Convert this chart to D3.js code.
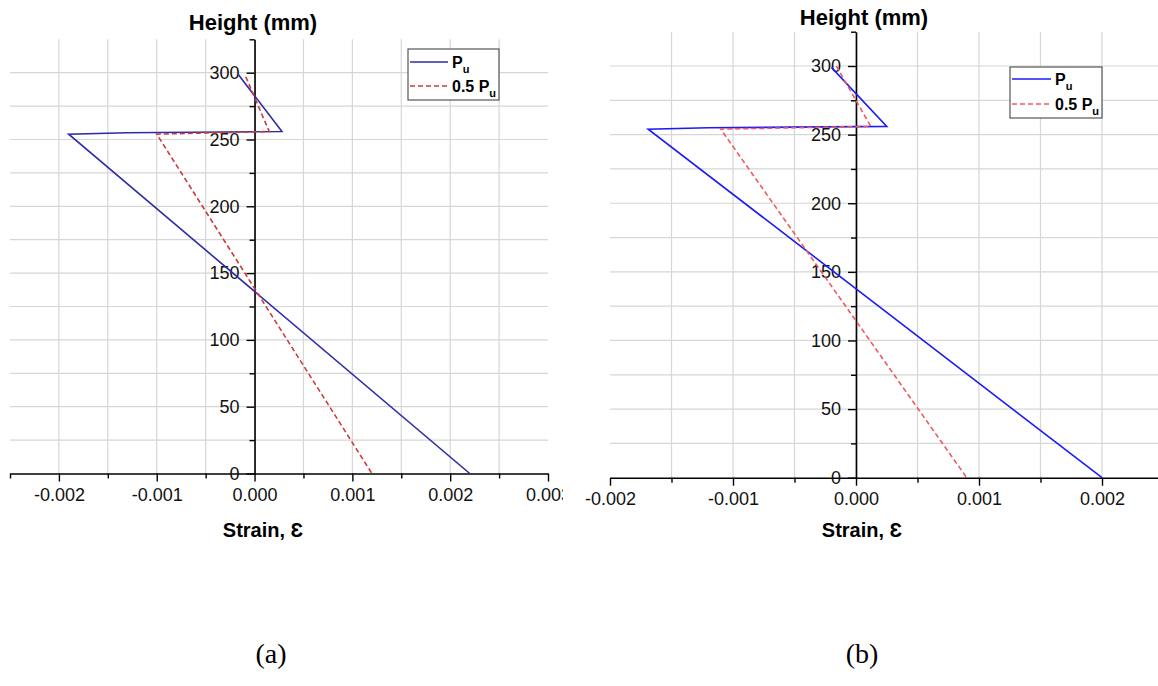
<!DOCTYPE html>
<html lang="en">
<head>
<meta charset="UTF-8">
<title>Strain profiles</title>
<script src="https://cdn.jsdelivr.net/npm/d3@7"></script>
<style>
  body { margin: 0; background: #fff; }
  svg { display: block; font-family: "Liberation Sans", Arial, sans-serif; }
</style>
</head>
<body>
<svg id="chart" width="1158" height="686"></svg>
<script>
// panel (a) values
const strainA_Pu = [-0.00017, 0.00028, -0.0013, -0.0019, 0.0022];
const heightA_Pu = [299, 256, 255, 254, 0];
const strainA_half = [-0.00009, 0.00015, -0.001, 0.0012];
const heightA_half = [297, 256, 254, 0];

// panel (b) values
const strainB_Pu = [-0.0002, 0.00025, -0.0012, -0.00169, 0.002];
const heightB_Pu = [299, 256, 255, 254, 0];
const strainB_half = [-0.00016, 0.00012, -0.0011, 0.0009];
const heightB_half = [300, 256, 254, 0];

const strainTicksA = [-0.002, -0.001, 0, 0.001, 0.002, 0.003];
const strainTicksB = [-0.002, -0.001, 0, 0.001, 0.002];
const heightTicks = [0, 50, 100, 150, 200, 250, 300];
const heightMinor = [25, 75, 125, 175, 225, 275, 325];
const legendLabels = ["P", "0.5 P"];
const captions = ["(a)", "(b)"];

const svg = d3.select("#chart");

const panels = [
  {
    id: "a", caption: captions[0],
    pu: d3.zip(strainA_Pu, heightA_Pu), half: d3.zip(strainA_half, heightA_half),
    ticks: strainTicksA,
    xDomain: [-0.0025, 0.003], xRange: [10, 548], yRange: [473.5, 39.3],
    clip: [0, 563],
    blue: "#2c2ca8", red: "#cc3b3b",
    titleX: 253, titleY: 30, labelX: 263, labelY: 537, capX: 271,
    legend: { x: 408, y: 49, w: 91, h: 51, row1: 62, row2: 86, lineW: 38 }
  },
  {
    id: "b", caption: captions[1],
    pu: d3.zip(strainB_Pu, heightB_Pu), half: d3.zip(strainB_half, heightB_half),
    ticks: strainTicksB,
    xDomain: [-0.002, 0.0025], xRange: [610, 1163.5], yRange: [477.7, 31.7],
    clip: [575, 1158],
    blue: "#1c1cf5", red: "#ee5a60",
    titleX: 864, titleY: 25, labelX: 862, labelY: 537, capX: 862,
    legend: { x: 1010, y: 67, w: 92, h: 51, row1: 79, row2: 104, lineW: 39 }
  }
];

panels.forEach(p => {
  const clipId = "clip-" + p.id;
  svg.append("clipPath").attr("id", clipId)
    .append("rect").attr("x", p.clip[0]).attr("y", 0)
    .attr("width", p.clip[1] - p.clip[0]).attr("height", 686);

  const g = svg.append("g").attr("clip-path", `url(#${clipId})`);

  const x = d3.scaleLinear().domain(p.xDomain).range(p.xRange);
  const y = d3.scaleLinear().domain([0, 325]).range(p.yRange);

  // every 0.0005 step inside the domain
  const lo = Math.round(p.xDomain[0] / 0.0005), hi = Math.round(p.xDomain[1] / 0.0005);
  const halfSteps = d3.range(lo, hi + 1).map(i => +(i * 0.0005).toFixed(4));
  const gridX = halfSteps.filter(v => v > p.xDomain[0] && v < p.xDomain[1]);
  const minorX = halfSteps.filter(v => !p.ticks.some(t => Math.abs(t - v) < 1e-9));

  // grid
  g.append("g").selectAll("line").data(gridX).join("line")
    .attr("x1", d => x(d)).attr("x2", d => x(d))
    .attr("y1", y(0)).attr("y2", y(325))
    .attr("stroke", "#d6d6d6").attr("stroke-width", 1.2);
  g.append("g").selectAll("line").data(d3.range(25, 301, 25)).join("line")
    .attr("x1", p.xRange[0]).attr("x2", p.xRange[1])
    .attr("y1", d => y(d)).attr("y2", d => y(d))
    .attr("stroke", "#d6d6d6").attr("stroke-width", 1.2);

  // x axis
  const xAxis = g.append("g").attr("transform", `translate(0,${y(0)})`)
    .call(d3.axisBottom(x).tickValues(p.ticks).tickSize(8).tickPadding(7)
      .tickSizeOuter(0).tickFormat(d => d.toFixed(3)));
  g.append("g").attr("transform", `translate(0,${y(0)})`)
    .call(d3.axisBottom(x).tickValues(minorX).tickSize(5).tickFormat(""))
    .call(s => s.select(".domain").remove());

  // y axis at zero strain
  const yAxis = g.append("g").attr("transform", `translate(${x(0)},0)`)
    .call(d3.axisLeft(y).tickValues(heightTicks).tickSize(8).tickPadding(7).tickSizeOuter(0));
  g.append("g").attr("transform", `translate(${x(0)},0)`)
    .call(d3.axisLeft(y).tickValues(heightMinor).tickSize(5).tickFormat(""))
    .call(s => s.select(".domain").remove());

  [xAxis, yAxis].forEach(a => {
    a.selectAll("text").attr("font-size", 18).attr("font-family", "Liberation Sans, Arial, sans-serif").attr("fill", "#111");
    a.select(".domain").attr("stroke-width", 1.6);
  });
  g.selectAll(".tick line").attr("stroke-width", 1.4);

  // series
  const line = d3.line().x(d => x(d[0])).y(d => y(d[1]));
  g.append("path").datum(p.pu).attr("d", line)
    .attr("fill", "none").attr("stroke", p.blue).attr("stroke-width", 1.6);
  g.append("path").datum(p.half).attr("d", line)
    .attr("fill", "none").attr("stroke", p.red).attr("stroke-width", 1.6)
    .attr("stroke-dasharray", "5,3");

  // titles
  g.append("text").attr("x", p.titleX).attr("y", p.titleY)
    .attr("text-anchor", "middle").attr("font-size", 22).attr("font-weight", "bold")
    .text("Height (mm)");
  g.append("text").attr("x", p.labelX).attr("y", p.labelY)
    .attr("text-anchor", "middle").attr("font-size", 20).attr("font-weight", "bold")
    .text("Strain, \u0190");

  // legend
  const L = p.legend;
  const lg = g.append("g");
  lg.append("rect").attr("x", L.x).attr("y", L.y).attr("width", L.w).attr("height", L.h)
    .attr("fill", "#fff").attr("stroke", "#555").attr("stroke-width", 1.2);
  [[p.blue, null, L.row1], [p.red, "5,3", L.row2]].forEach((r, i) => {
    lg.append("line").attr("x1", L.x + 2).attr("x2", L.x + 2 + L.lineW)
      .attr("y1", r[2]).attr("y2", r[2])
      .attr("stroke", r[0]).attr("stroke-width", 1.6).attr("stroke-dasharray", r[1]);
    const t = lg.append("text").attr("x", L.x + L.lineW + 6).attr("y", r[2] + 6)
      .attr("font-size", 16).attr("font-weight", "bold");
    t.append("tspan").text(legendLabels[i]);
    t.append("tspan").attr("font-size", 11).attr("dy", 5).text("u");
  });

  // caption
  svg.append("text").attr("x", p.capX).attr("y", 663)
    .attr("text-anchor", "middle").attr("font-size", 28)
    .attr("font-family", "Liberation Serif, Times New Roman, serif")
    .text(p.caption);
});
</script>
</body>
</html>
